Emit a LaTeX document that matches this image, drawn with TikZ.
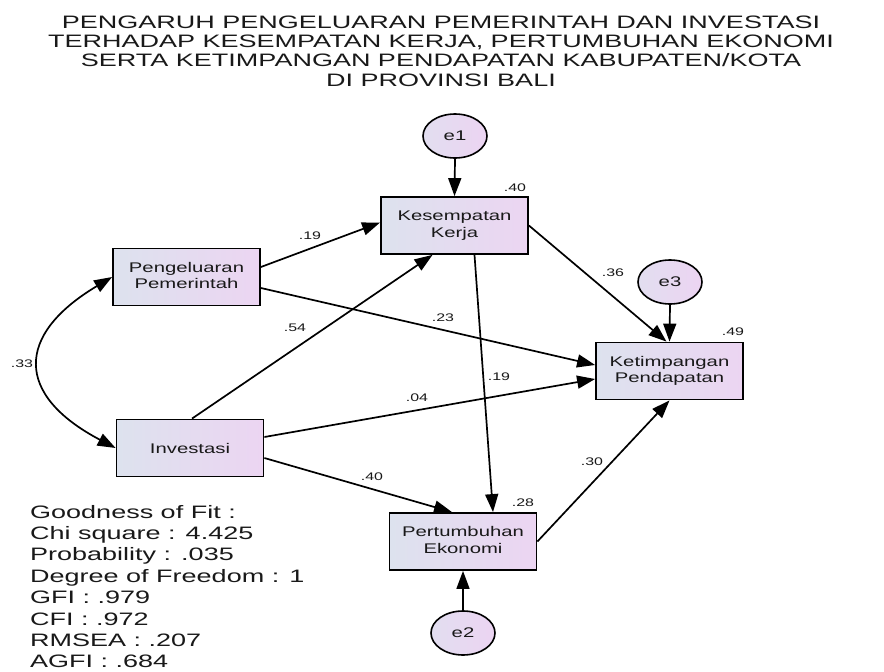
\documentclass[tikz,border=0pt]{standalone}
\usepackage{fontspec}
\setmainfont{Liberation Sans}
\usetikzlibrary{arrows.meta,shapes.geometric}
\definecolor{boxL}{RGB}{221,226,238}
\definecolor{boxR}{RGB}{236,213,242}
\definecolor{ellL}{RGB}{226,222,240}
\definecolor{ellR}{RGB}{236,212,242}
\definecolor{txt}{RGB}{25,25,25}
\newcommand\hstr[1]{\scalebox{1.45}[1]{#1}}
\newcommand\twoline[2]{\scalebox{1.45}[1]{\begin{tabular}{@{}c@{}}#1\\#2\end{tabular}}}
\begin{document}
\begin{tikzpicture}[x=1pt,y=-1pt,
  varbox/.style={rectangle,draw=black,line width=1.8pt,minimum width=147pt,minimum height=57pt,
    inner sep=0pt,left color=boxL,right color=boxR,text=txt,font=\fontsize{14}{16.5}\selectfont},
  errell/.style={ellipse,draw=black,line width=1.6pt,minimum width=64pt,minimum height=44pt,
    inner sep=0pt,left color=ellL,right color=ellR,text=txt,font=\fontsize{14}{16.5}\selectfont},
  coef/.style={inner sep=0pt,text=txt,font=\fontsize{11}{13}\selectfont},
  path/.style={line width=1.7pt,-{Triangle[length=18pt,width=13pt]}},
  cov/.style={line width=1.7pt,{Triangle[length=18pt,width=13pt]}-{Triangle[length=18pt,width=13pt]}},
  ttl/.style={anchor=base,inner sep=0pt,text=txt,font=\fontsize{18}{19.3}\selectfont}
]
\fill[white] (0,0) rectangle (884,672);
\useasboundingbox (0,0) rectangle (884,672);

% title
\node[ttl] (t1) at (441,28) {\scalebox{1.5}[1]{PENGARUH PENGELUARAN PEMERINTAH DAN INVESTASI}};
\node[ttl] (t2) at (441,47.3) {\scalebox{1.5}[1]{TERHADAP KESEMPATAN KERJA, PERTUMBUHAN EKONOMI}};
\node[ttl] (t3) at (441,66.6) {\scalebox{1.5}[1]{SERTA KETIMPANGAN PENDAPATAN KABUPATEN/KOTA}};
\node[ttl] (t4) at (441,86) {\scalebox{1.5}[1]{DI PROVINSI BALI}};

% variables
\node[varbox] (kes) at (454.5,225.5) {\twoline{Kesempatan}{Kerja}};
\node[varbox] (peng) at (186.5,277) {\twoline{Pengeluaran}{Pemerintah}};
\node[varbox] (inv) at (190,448) {\hstr{Investasi}};
\node[varbox] (ket) at (669.5,371) {\twoline{Ketimpangan}{Pendapatan}};
\node[varbox] (pert) at (463,541.5) {\twoline{Pertumbuhan}{Ekonomi}};

% errors
\node[errell] (e1) at (455,136) {\hstr{e1}};
\node[errell] (e3) at (670,282) {\hstr{e3}};
\node[errell] (e2) at (463,633) {\hstr{e2}};

% paths
\draw[path] (e1.south) -- (kes.north);
\draw[path] (e3.south) -- (ket.north);
\draw[path] (e2.north) -- (pert.south);
\draw[path] ([yshift=10pt]peng.east) -- ([yshift=3pt]kes.west);
\draw[path] ([xshift=2pt]inv.north) -- ([xshift=-22pt]kes.south);
\draw[path] ([yshift=-11pt]peng.east) -- ([yshift=6pt]ket.west);
\draw[path] ([yshift=11pt]inv.east) -- ([yshift=-8pt]ket.west);
\draw[path] (kes.east) -- ([xshift=-3pt]ket.north);
\draw[path] ([xshift=20pt]kes.south) -- ([xshift=30pt]pert.north);
\draw[path] ([yshift=-10pt]inv.east) -- ([xshift=-11pt]pert.north);
\draw[path] (pert.east) -- (ket.south);
\draw[cov] (peng.west) .. controls (15,335) and (15,395) .. (inv.west);

% coefficients
\node[coef] (r1) at (515,188) {\hstr{.40}};
\node[coef] (r3) at (733,332) {\hstr{.49}};
\node[coef] (r2) at (523,503) {\hstr{.28}};
\node[coef] (c1) at (310,236) {\hstr{.19}};
\node[coef] (c2) at (295,328) {\hstr{.54}};
\node[coef] (c3) at (443,318) {\hstr{.23}};
\node[coef] (c4) at (417,398) {\hstr{.04}};
\node[coef] (c5) at (613,273) {\hstr{.36}};
\node[coef] (c6) at (499,377) {\hstr{.19}};
\node[coef] (c7) at (372,477) {\hstr{.40}};
\node[coef] (c8) at (592,462) {\hstr{.30}};
\node[coef] (c9) at (22,364) {\hstr{.33}};

% goodness of fit
\node[anchor=north west,inner sep=0pt,text=txt,font=\fontsize{18}{21.4}\selectfont] (gof) at (30,503)
  {\scalebox{1.5}[1]{\begin{tabular}{@{}l@{}}Goodness of Fit :\\Chi square : 4.425\\Probability : .035\\Degree of Freedom : 1\\GFI : .979\\CFI : .972\\RMSEA : .207\\AGFI : .684\end{tabular}}};
\end{tikzpicture}
\end{document}
